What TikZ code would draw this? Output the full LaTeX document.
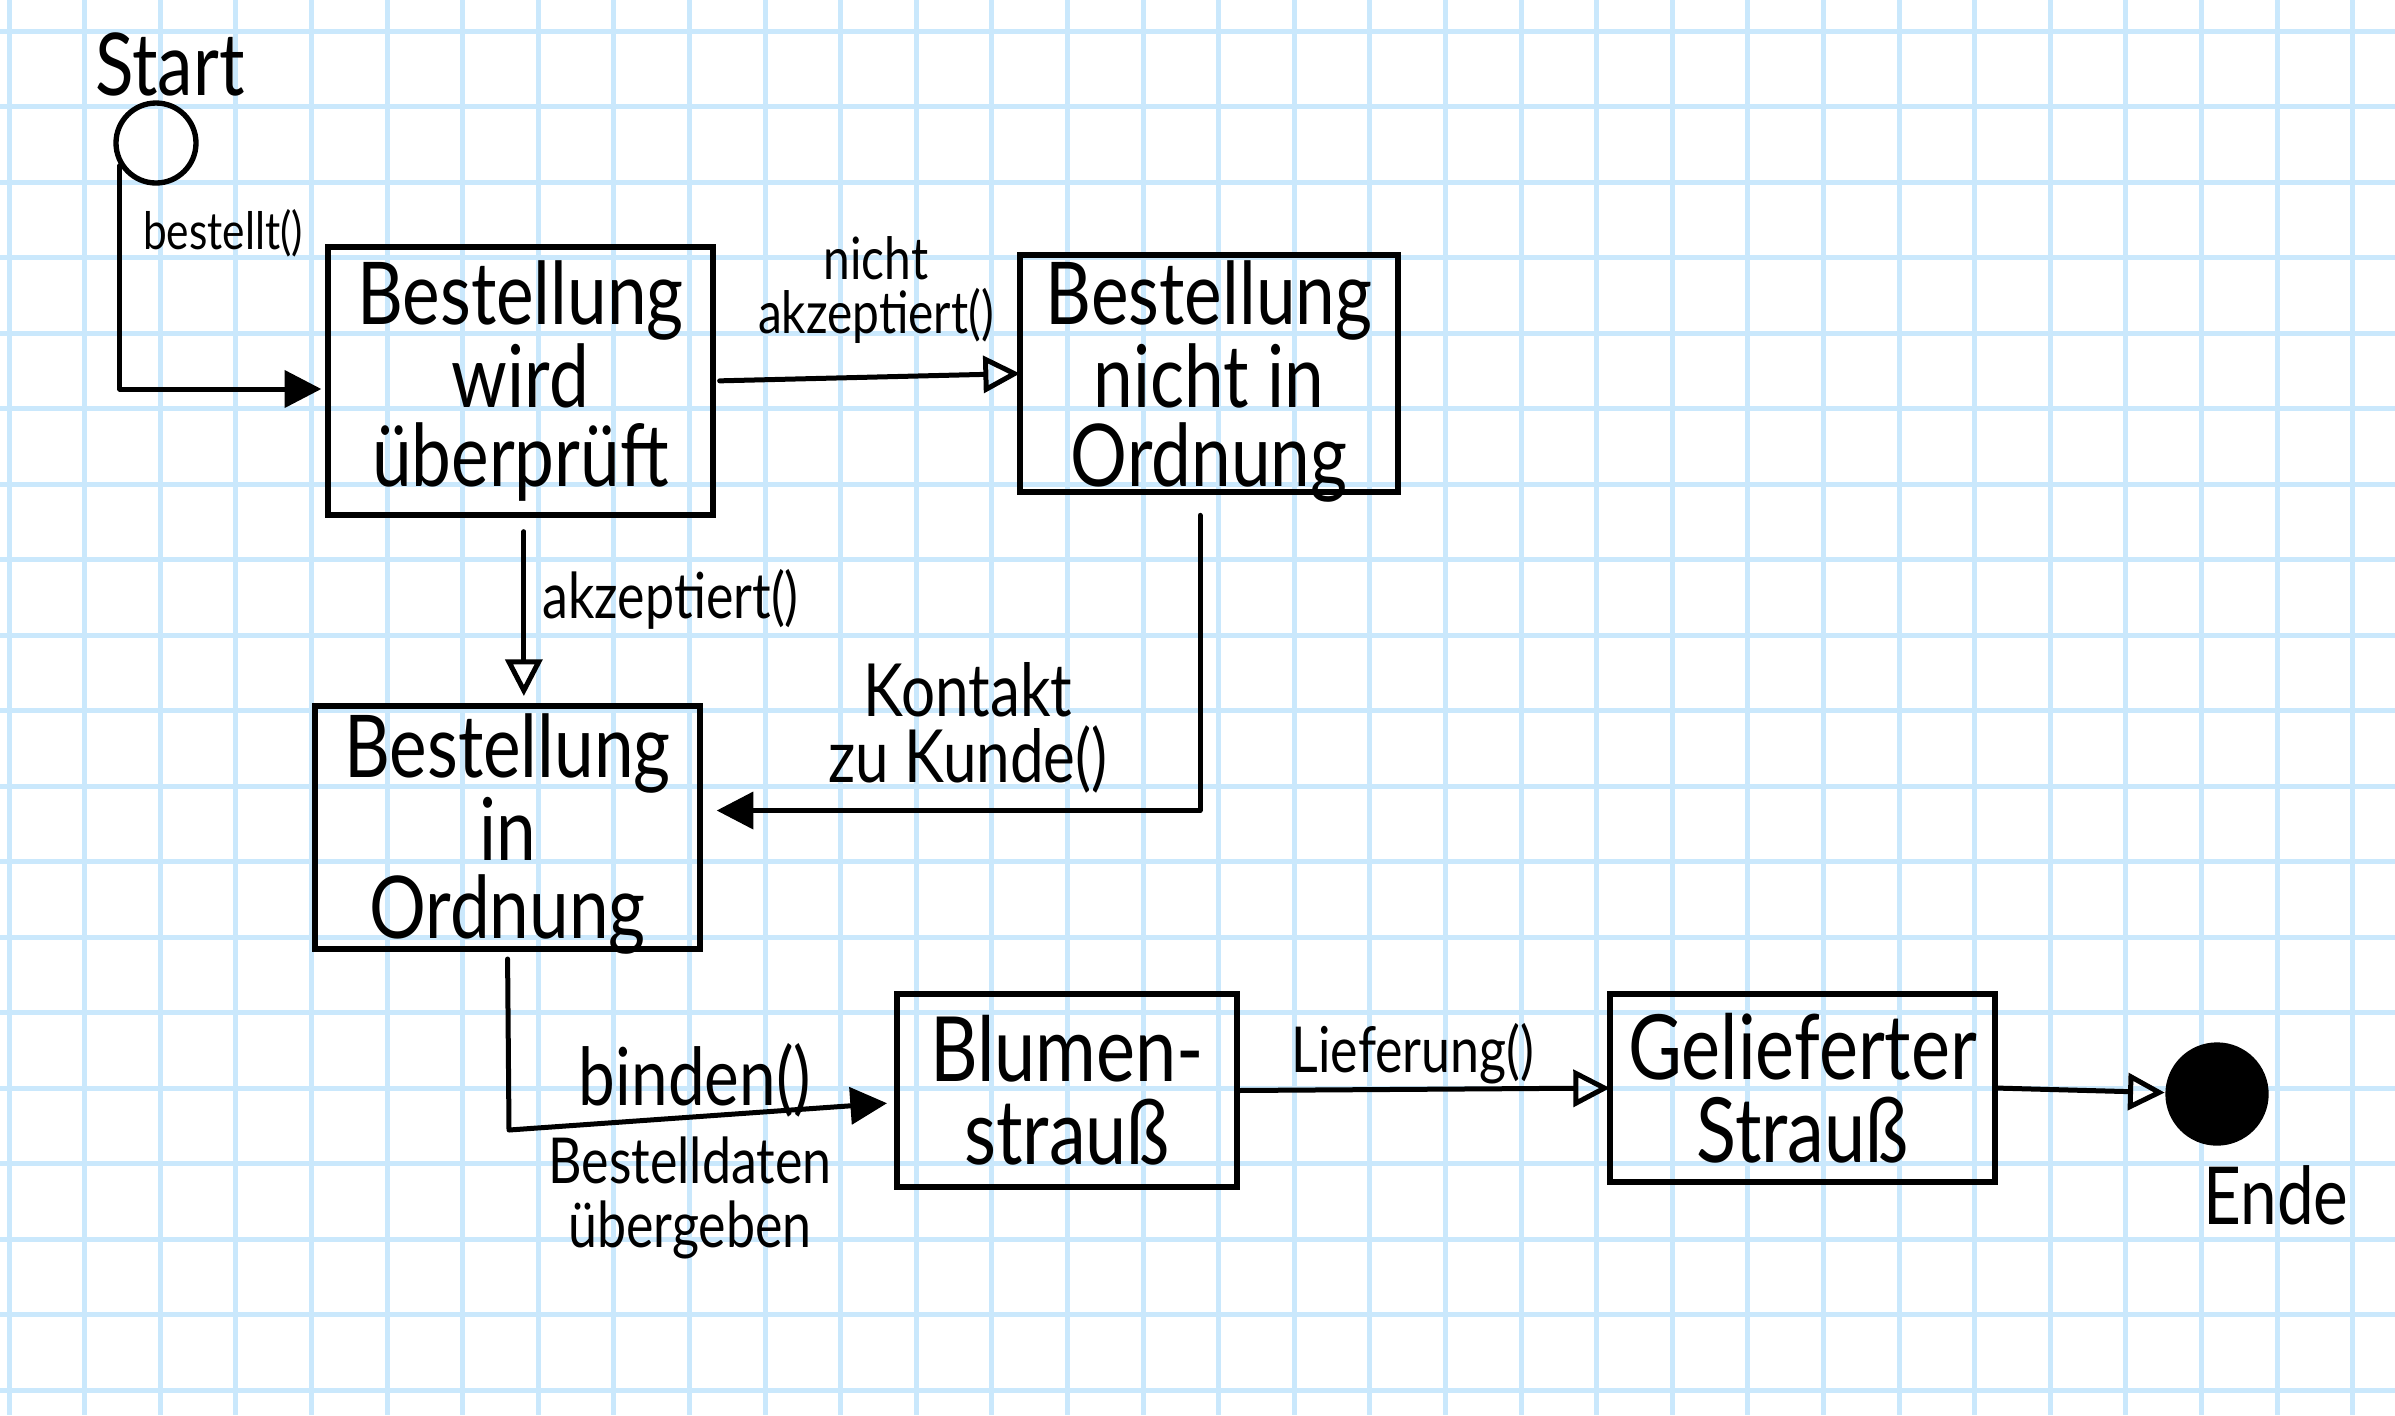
\documentclass[tikz,border=0pt]{standalone}
\usepackage{fontspec}
\setmainfont{Lato}[FakeStretch=0.82]
\usetikzlibrary{arrows.meta}
\definecolor{gridblue}{RGB}{202,232,252}
\tikzset{
  stbox/.style={draw, line width=1.8pt, inner sep=0pt, outer sep=0pt, align=center, font=\fontsize{26}{23.5}\selectfont},
  boxtext/.style={inner sep=0pt, align=center, font=\fontsize{26}{23.5}\selectfont},
  conn/.style={line width=1.5pt, line join=round, line cap=round},
  openhead/.style={-{Triangle[open,length=11pt,width=11pt,line width=1.5pt]}},
  fillhead/.style={-{Triangle[length=11pt,width=11pt]}},
  lbl/.style={inner sep=0pt, align=center},
}
\begin{document}
\begin{tikzpicture}[x=0.3pt,y=-0.3pt]
\fill[white] (0,0) rectangle (2395,1415);
\useasboundingbox (0,0) rectangle (2395,1415);
\foreach \i in {0,...,31} \draw[gridblue, line width=1.5pt] ({9+75.6*\i},0) -- ({9+75.6*\i},1415);
\foreach \j in {0,...,18} \draw[gridblue, line width=1.5pt] (0,{31+75.5*\j}) -- (2395,{31+75.5*\j});

% states
\node[circle, draw, line width=1.6pt, minimum size=24pt, inner sep=0pt] (s) at (156,143) {};
\node[circle, fill=black, minimum size=31pt, inner sep=0pt] (e) at (2217,1094) {};
\node[stbox, minimum width=115.5pt, minimum height=80.4pt] (b1) at (520.5,381) {Bestellung\\wird\\überprüft};
\node[stbox, minimum width=113.4pt, minimum height=71.1pt] (b2) at (1209,373.5) {};
\node[boxtext] (b2t) at ([yshift=-2.4pt]b2.center) {Bestellung\\nicht in\\Ordnung};
\node[stbox, minimum width=115.5pt, minimum height=72.9pt] (b3) at (507.5,827.5) {};
\node[boxtext] (b3t) at ([yshift=-2pt]b3.center) {Bestellung\\in\\Ordnung};
\node[stbox, font=\fontsize{27}{25}\selectfont, minimum width=102pt, minimum height=57.9pt] (b4) at (1067,1090.5) {Blumen-\\strauß};
\node[stbox, font=\fontsize{27}{25}\selectfont, minimum width=115.5pt, minimum height=56.4pt] (b5) at (1802.5,1088) {Gelieferter\\Strauß};

% texts
\node[lbl, font=\fontsize{26}{26}\selectfont] (tstart) at (170,64) {Start};
\node[lbl, font=\fontsize{24}{24}\selectfont] (tende) at (2276,1195) {Ende};
\node[lbl, font=\fontsize{15.5}{15.5}\selectfont] (l1) at (223,233) {bestellt()};
\node[lbl, font=\fontsize{17.5}{16}\selectfont] (l2) at (876,290) {nicht\\akzeptiert()};
\node[lbl, font=\fontsize{19}{19}\selectfont, anchor=west] (l3) at (542,599) {akzeptiert()};
\node[lbl, font=\fontsize{22}{20}\selectfont] (l4) at (968,728) {Kontakt\\zu Kunde()};
\node[lbl, font=\fontsize{24}{24}\selectfont] (l5) at (695,1080) {binden()};
\node[lbl, font=\fontsize{19}{19}\selectfont] (l6) at (690,1198) {Bestelldaten\\übergeben};
\node[lbl, font=\fontsize{19}{19}\selectfont] (l7) at (1413,1054) {Lieferung()};

% connectors
\coordinate (k3) at (509,1130);
\draw[conn, fillhead, shorten >=2pt] (s.212) |- ([yshift=-2.4pt]b1.west);
\draw[conn, openhead, shorten <=2pt] (b1.east) -- (b2.west);
\draw[conn, openhead, shorten <=5pt, shorten >=3pt] ([xshift=1pt]b1.south) -- ([xshift=1pt]b1.south |- b3.north);
\draw[conn, fillhead, shorten <=7pt, shorten >=5pt] ([xshift=-2.7pt]b2.south) |- ([yshift=5.1pt]b3.east);
\draw[conn, fillhead, shorten <=3pt, shorten >=3pt] (b3.south) -- (k3) -- ([yshift=-3.6pt]b4.west);
\draw[conn, openhead, shorten <=1pt] (b4.east) -- (b5.west);
\draw[conn, openhead, shorten <=1pt] (b5.east) -- (e);
\end{tikzpicture}
\end{document}
